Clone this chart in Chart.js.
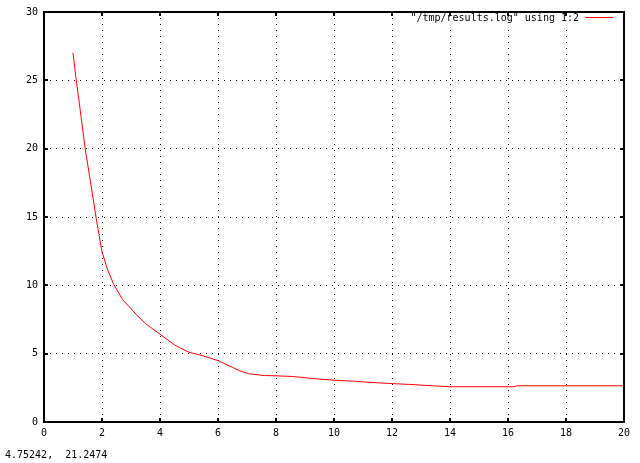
<!DOCTYPE html>
<html>
<head>
<meta charset="utf-8">
<script src="https://cdn.jsdelivr.net/npm/chart.js@4.4.1/dist/chart.umd.min.js"></script>
<style>
  html, body { margin: 0; padding: 0; background: #fff; }
  #wrap { position: relative; width: 640px; height: 463px; }
</style>
</head>
<body>
<div id="wrap"><canvas id="plot" width="640" height="463"></canvas></div>
<script>
// données (colonnes 1:2 de /tmp/results.log)
const xVals = [1, 1.1, 1.25, 1.42, 1.6, 1.8, 2.0, 2.2, 2.4, 2.71, 3.0, 3.18, 3.5, 4.0, 4.5, 4.67, 5.0, 5.36, 6.0, 6.5, 6.73, 7.08, 7.6, 8.0, 8.57, 9.38, 10.0, 10.64, 11.1, 11.9, 12.6, 13.4, 14.0, 16.2, 16.3, 20];
const yVals = [27, 25.2, 22.8, 20, 17.6, 14.9, 12.45, 11.1, 10.1, 8.95, 8.3, 7.86, 7.2, 6.42, 5.65, 5.45, 5.1, 4.92, 4.49, 4.0, 3.76, 3.52, 3.4, 3.38, 3.33, 3.16, 3.06, 2.99, 2.92, 2.82, 2.75, 2.65, 2.58, 2.58, 2.65, 2.65];
const seriesLabel = '"/tmp/results.log" using 1:2';
const mouseText = '4.75242,  21.2474';

const FONT = '"DejaVu Sans Mono", monospace';
const RED = '#ff0000';

// cadre + petites graduations vers l'intérieur, légende et coordonnées souris
const gnuplotDeco = {
  id: 'gnuplotDeco',
  afterDatasetsDraw(chart) {
    const { ctx, chartArea: a, scales } = chart;
    ctx.save();
    ctx.setLineDash([]);

    // fond blanc de la légende (masque la grille)
    ctx.fillStyle = '#fff';
    ctx.fillRect(405, 11, 215, 16);

    ctx.strokeStyle = '#000';
    ctx.lineWidth = 2;
    ctx.strokeRect(a.left, a.top, a.right - a.left, a.bottom - a.top);
    const tl = 4;
    ctx.beginPath();
    scales.x.ticks.forEach(t => {
      const px = Math.round(scales.x.getPixelForValue(t.value));
      ctx.moveTo(px, a.bottom); ctx.lineTo(px, a.bottom - tl);
      ctx.moveTo(px, a.top); ctx.lineTo(px, a.top + tl);
    });
    scales.y.ticks.forEach(t => {
      const py = Math.round(scales.y.getPixelForValue(t.value));
      ctx.moveTo(a.left, py); ctx.lineTo(a.left + tl, py);
      ctx.moveTo(a.right, py); ctx.lineTo(a.right - tl, py);
    });
    ctx.stroke();

    // légende à la gnuplot : texte puis trait rouge
    ctx.font = '10px ' + FONT;
    ctx.fillStyle = '#000';
    ctx.textAlign = 'right';
    ctx.textBaseline = 'middle';
    ctx.fillText(chart.data.datasets[0].label, 579, 18);
    ctx.fillStyle = RED;
    ctx.fillRect(585, 17, 28, 1);

    ctx.fillStyle = '#000';
    ctx.textAlign = 'left';
    ctx.fillText(mouseText, 5, 455);
    ctx.restore();
  }
};

const points = xVals.map((x, i) => ({ x: x, y: yVals[i] }));

new Chart(document.getElementById('plot').getContext('2d'), {
  type: 'line',
  data: {
    datasets: [{
      label: seriesLabel,
      data: points,
      borderColor: RED,
      borderWidth: 1,
      pointRadius: 0,
      tension: 0,
      fill: false
    }]
  },
  options: {
    responsive: false,
    animation: false,
    devicePixelRatio: 1,
    layout: { padding: { top: 8, right: 16, left: 0, bottom: 0 } },
    plugins: { legend: { display: false }, tooltip: { enabled: false } },
    scales: {
      x: {
        type: 'linear', min: 0, max: 20,
        ticks: { stepSize: 2, color: '#000', padding: 5, maxRotation: 0, font: { family: FONT, size: 10 } },
        grid: { color: '#000', lineWidth: 1, drawTicks: false },
        border: { display: false, dash: [1, 5] },
        afterFit: s => { s.height = 41; }
      },
      y: {
        min: 0, max: 30,
        ticks: { stepSize: 5, color: '#000', padding: 6, font: { family: FONT, size: 10 } },
        grid: { color: '#000', lineWidth: 1, drawTicks: false },
        border: { display: false, dash: [1, 5] },
        afterFit: s => { s.width = 44; }
      }
    }
  },
  plugins: [gnuplotDeco]
});
</script>
</body>
</html>
